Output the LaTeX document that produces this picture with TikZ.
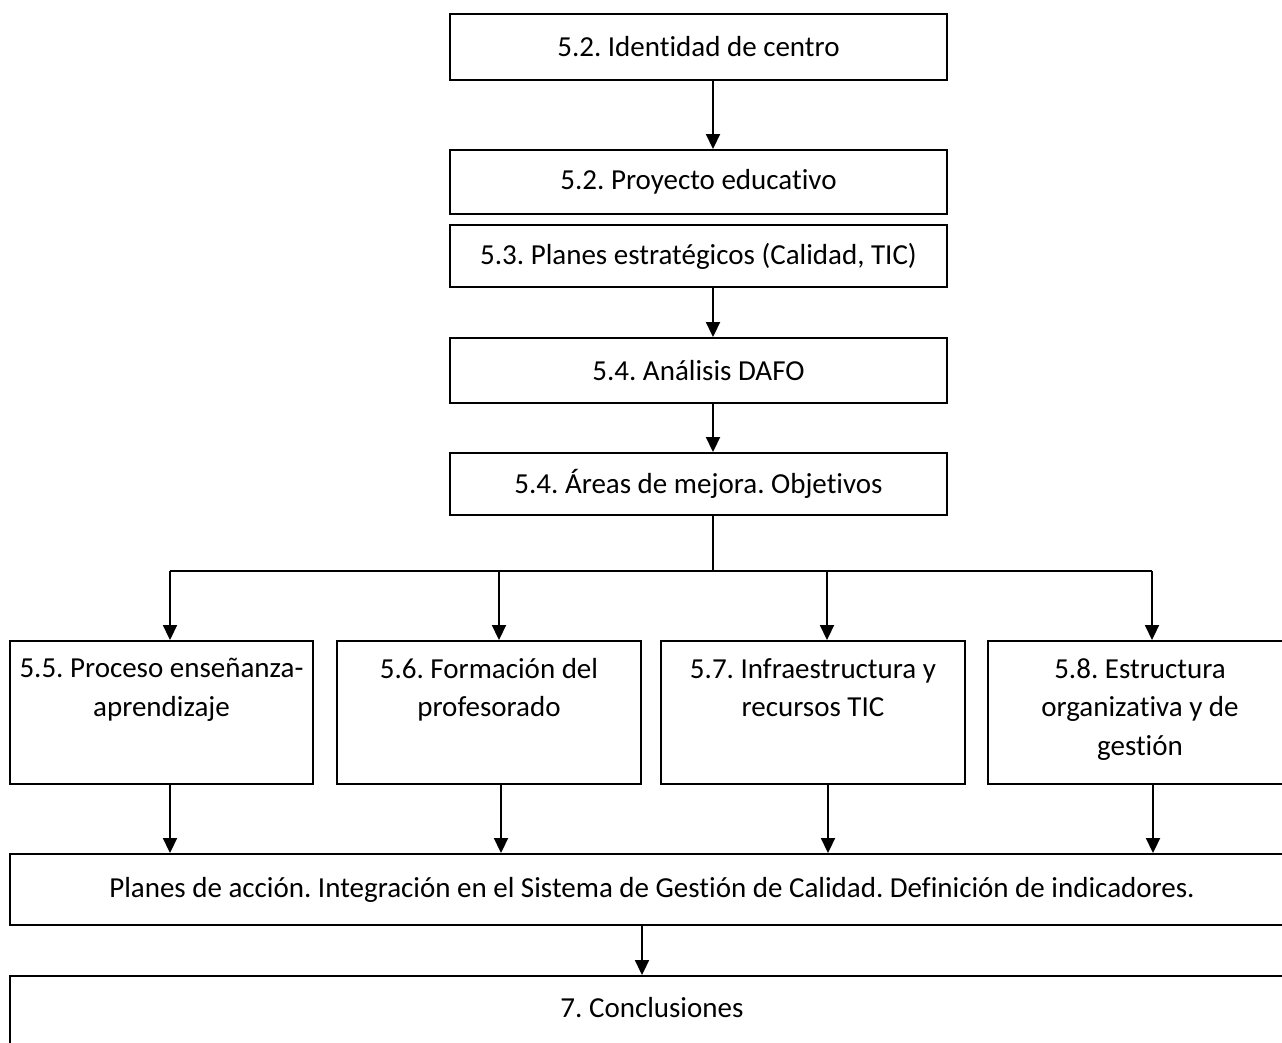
\documentclass[tikz,border=0pt]{standalone}
\usepackage{fontspec}
\setmainfont{Carlito}[Ligatures=NoCommon]
\frenchspacing
\usetikzlibrary{arrows.meta, positioning}

\begin{document}
\begin{tikzpicture}[
  x=1pt, y=-1pt,
  box/.style={draw, line width=1.9pt, inner sep=0pt, font=\fontsize{29}{38.5}\selectfont},
  stagebox/.style={box, minimum width=497pt, minimum height=#1},
  widebox/.style={box, minimum width=#1},
  boxtext/.style={align=center, inner sep=0pt, font=\fontsize{29}{38.5}\selectfont},
  flow/.style={-{Triangle[length=15pt, width=14pt]}, line width=1.8pt},
  link/.style={line width=1.8pt}
]
  \clip (0,0) rectangle (1282,1042);

  % cadena superior
  \node[stagebox=66pt] (ident) at (698.5,47) {5.2. Identidad de centro};
  \node[stagebox=64pt] (proy) at (698.5,182) {5.2. Proyecto educativo};
  \node[stagebox=62pt] (planes) at (698.5,256) {5.3. Planes estratégicos (Calidad, TIC)};
  \node[stagebox=65pt] (dafo) at (698.5,370.5) {5.4. Análisis DAFO};
  \node[stagebox=62pt] (areas) at (698.5,484) {5.4. Áreas de mejora. Objetivos};

  \coordinate (spine) at (713,0);
  \draw[flow] (ident.south -| spine) -- (proy.north -| spine);
  \draw[flow] (planes.south -| spine) -- (dafo.north -| spine);
  \draw[flow] (dafo.south -| spine) -- (areas.north -| spine);

  % las cuatro áreas
  \node[widebox=303pt, minimum height=143pt] (proc) at (161.5,712.5) {};
  \node[widebox=304pt, minimum height=143pt] (form) at (489,712.5) {};
  \node[widebox=304pt, minimum height=143pt] (infra) at (813,712.5) {};
  \node[widebox=304pt, minimum height=143pt] (estr) at (1140,712.5) {};
  \node[boxtext, below=18pt of proc.north] (proctxt) {5.5. Proceso enseñanza-\\aprendizaje};
  \node[boxtext, below=18pt of form.north] (formtxt) {5.6. Formación del\\profesorado};
  \node[boxtext, below=18pt of infra.north] (infratxt) {5.7. Infraestructura y\\recursos TIC};
  \node[boxtext, below=18pt of estr.north] (estrtxt) {5.8. Estructura\\organizativa y de\\gestión};

  \coordinate (split) at (713,571);
  \coordinate (brA) at (170,571);
  \coordinate (brB) at (499,571);
  \coordinate (brC) at (827,571);
  \coordinate (brD) at (1152,571);
  \draw[link] (areas.south -| spine) -- (split);
  \draw[link] (brA) -- (brD);
  \foreach \br/\dst in {brA/proc, brB/form, brC/infra, brD/estr}
    \draw[flow] (\br) -- (\dst.north -| \br);

  % planes de acción y conclusiones
  \node[widebox=1284pt, minimum height=71pt] (accion) at (652,889.5)
    {Planes de acción. Integración en el Sistema de Gestión de Calidad. Definición de indicadores.};
  \node[widebox=1284pt, minimum height=120pt] (concl) at (652,1036) {};
  \node[boxtext, below=22pt of concl.north] (concltxt) {7. Conclusiones};

  \foreach \src/\x in {proc/170, form/501, infra/828, estr/1153}
    \draw[flow] (\src.south -| \x,0) -- (accion.north -| \x,0);
  \draw[flow] (accion.south -| 642,0) -- (concl.north -| 642,0);
\end{tikzpicture}
\end{document}
